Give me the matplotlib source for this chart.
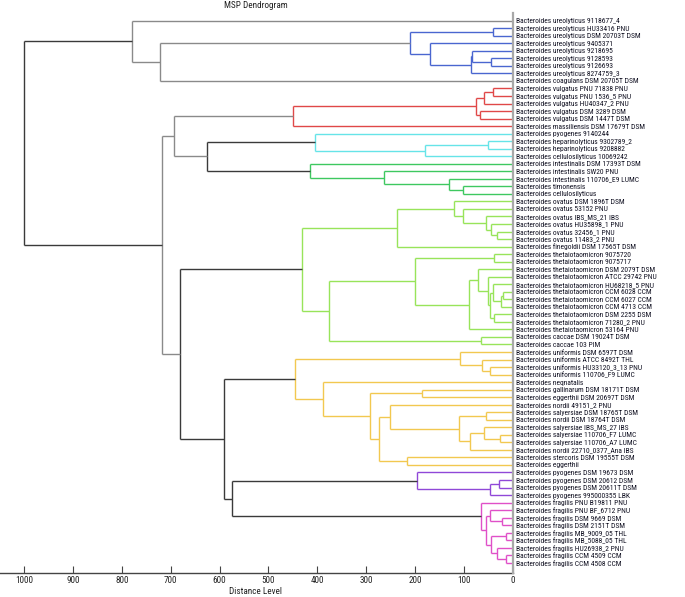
import matplotlib.pyplot as plt
from matplotlib import font_manager as fm

leaf_labels = [
    "Bacteroides ureolyticus 9118677_4",
    "Bacteroides ureolyticus HU33416 PNU",
    "Bacteroides ureolyticus DSM 20703T DSM",
    "Bacteroides ureolyticus 9405371",
    "Bacteroides ureolyticus 9218695",
    "Bacteroides ureolyticus 9128593",
    "Bacteroides ureolyticus 9126693",
    "Bacteroides ureolyticus 8274759_3",
    "Bacteroides coagulans DSM 20705T DSM",
    "Bacteroides vulgatus PNU 71838 PNU",
    "Bacteroides vulgatus PNU 1536_5 PNU",
    "Bacteroides vulgatus HU40347_2 PNU",
    "Bacteroides vulgatus DSM 3289 DSM",
    "Bacteroides vulgatus DSM 1447T DSM",
    "Bacteroides massiliensis DSM 17679T DSM",
    "Bacteroides pyogenes 9140244",
    "Bacteroides heparinolyticus 9302789_2",
    "Bacteroides heparinolyticus 9208882",
    "Bacteroides cellulosilyticus 10069242",
    "Bacteroides intestinalis DSM 17393T DSM",
    "Bacteroides intestinalis SW20 PNU",
    "Bacteroides intestinalis 110706_E9 LUMC",
    "Bacteroides timonensis",
    "Bacteroides cellulosilyticus",
    "Bacteroides ovatus DSM 1896T DSM",
    "Bacteroides ovatus 53152 PNU",
    "Bacteroides ovatus IBS_MS_21 IBS",
    "Bacteroides ovatus HU35898_1 PNU",
    "Bacteroides ovatus 32456_1 PNU",
    "Bacteroides ovatus 11483_2 PNU",
    "Bacteroides finegoldii DSM 17565T DSM",
    "Bacteroides thetaiotaomicron 9075720",
    "Bacteroides thetaiotaomicron 9075717",
    "Bacteroides thetaiotaomicron DSM 2079T DSM",
    "Bacteroides thetaiotaomicron ATCC 29742 PNU",
    "Bacteroides thetaiotaomicron HU68218_5 PNU",
    "Bacteroides thetaiotaomicron CCM 6028 CCM",
    "Bacteroides thetaiotaomicron CCM 6027 CCM",
    "Bacteroides thetaiotaomicron CCM 4713 CCM",
    "Bacteroides thetaiotaomicron DSM 2255 DSM",
    "Bacteroides thetaiotaomicron 71280_2 PNU",
    "Bacteroides thetaiotaomicron 53164 PNU",
    "Bacteroides caccae DSM 19024T DSM",
    "Bacteroides caccae 103 PIM",
    "Bacteroides uniformis DSM 6597T DSM",
    "Bacteroides uniformis ATCC 8492T THL",
    "Bacteroides uniformis HU33120_3_13 PNU",
    "Bacteroides uniformis 110706_F9 LUMC",
    "Bacteroides neqnatalis",
    "Bacteroides gallinarum DSM 18171T DSM",
    "Bacteroides eggerthii DSM 20697T DSM",
    "Bacteroides nordii 49151_2 PNU",
    "Bacteroides salyersiae DSM 18765T DSM",
    "Bacteroides nordii DSM 18764T DSM",
    "Bacteroides salyersiae IBS_MS_27 IBS",
    "Bacteroides salyersiae 110706_F7 LUMC",
    "Bacteroides salyersiae 110706_A7 LUMC",
    "Bacteroides nordii 22710_0377_Ana IBS",
    "Bacteroides stercoris DSM 19555T DSM",
    "Bacteroides eggerthii",
    "Bacteroides pyogenes DSM 19673 DSM",
    "Bacteroides pyogenes DSM 20612 DSM",
    "Bacteroides pyogenes DSM 20611T DSM",
    "Bacteroides pyogenes 995000355 LBK",
    "Bacteroides fragilis PNU B19811 PNU",
    "Bacteroides fragilis PNU BF_6712 PNU",
    "Bacteroides fragilis DSM 9669 DSM",
    "Bacteroides fragilis DSM 2151T DSM",
    "Bacteroides fragilis MB_9009_05 THL",
    "Bacteroides fragilis MB_5088_05 THL",
    "Bacteroides fragilis HU26938_2 PNU",
    "Bacteroides fragilis CCM 4509 CCM",
    "Bacteroides fragilis CCM 4508 CCM",
]

# merges, bottom-up: (node, left child, right child, distance level, colour group)
# ints are leaves (row in leaf_labels), strings are earlier nodes
links = [
    ("u1", 1, 2, 40, "blue"),
    ("u2", 5, 6, 45, "blue"),
    ("u3", 4, "u2", 83, "blue"),
    ("u4", "u3", 7, 86, "blue"),
    ("u5", 3, "u4", 170, "blue"),
    ("u6", "u1", "u5", 211, "blue"),
    ("t1", "u6", 8, 722, "grey"),
    ("t2", 0, "t1", 780, "grey"),
    ("r1", 9, 10, 40, "red"),
    ("r2", "r1", 11, 59, "red"),
    ("r3", 12, 13, 67, "red"),
    ("r4", "r2", "r3", 76, "red"),
    ("r5", "r4", 14, 449, "red"),
    ("c1", 16, 17, 52, "cyan"),
    ("c2", "c1", 18, 179, "cyan"),
    ("c3", 15, "c2", 404, "cyan"),
    ("g1", 22, 23, 102, "green"),
    ("g2", 21, "g1", 130, "green"),
    ("g3", 20, "g2", 264, "green"),
    ("g4", 19, "g3", 416, "green"),
    ("m1", "c3", "g4", 625, "dark"),
    ("m2", "r5", "m1", 693, "grey"),
    ("l1", 28, 29, 33, "lime"),
    ("l2", 27, "l1", 46, "lime"),
    ("l3", 26, "l2", 55, "lime"),
    ("l4", 25, "l3", 102, "lime"),
    ("l5", 24, "l4", 120, "lime"),
    ("l6", "l5", 30, 237, "lime"),
    ("l7", 31, 32, 39, "lime"),
    ("l8", 36, 37, 20, "lime"),
    ("l9", "l8", 38, 25, "lime"),
    ("l10", 35, "l9", 41, "lime"),
    ("l11", 39, 40, 38, "lime"),
    ("l12", "l10", "l11", 47, "lime"),
    ("l13", 34, "l12", 52, "lime"),
    ("l14", 33, "l13", 72, "lime"),
    ("l15", "l14", 41, 90, "lime"),
    ("l16", "l7", "l15", 201, "lime"),
    ("l17", 42, 43, 65, "lime"),
    ("l18", "l16", "l17", 377, "lime"),
    ("l19", "l6", "l18", 431, "lime"),
    ("y1", 46, 47, 48, "yellow"),
    ("y2", 45, "y1", 64, "yellow"),
    ("y3", 44, "y2", 108, "yellow"),
    ("y4", 49, 50, 187, "yellow"),
    ("y5", 52, 53, 55, "yellow"),
    ("y6", 55, 56, 26, "yellow"),
    ("y7", 54, "y6", 60, "yellow"),
    ("y8", "y7", 57, 87, "yellow"),
    ("y9", "y5", "y8", 111, "yellow"),
    ("y10", 51, "y9", 251, "yellow"),
    ("y11", 58, 59, 216, "yellow"),
    ("y12", "y10", "y11", 273, "yellow"),
    ("y13", "y4", "y12", 292, "yellow"),
    ("y14", 48, "y13", 389, "yellow"),
    ("y15", "y3", "y14", 446, "yellow"),
    ("p1", 61, 62, 28, "purple"),
    ("p2", "p1", 63, 47, "purple"),
    ("p3", 60, "p2", 197, "purple"),
    ("k1", 66, 67, 22, "pink"),
    ("k2", 65, "k1", 48, "pink"),
    ("k3", 68, 69, 14, "pink"),
    ("k4", 71, 72, 15, "pink"),
    ("k5", 70, "k4", 33, "pink"),
    ("k6", "k3", "k5", 44, "pink"),
    ("k7", "k2", "k6", 55, "pink"),
    ("k8", 64, "k7", 65, "pink"),
    ("m3", "p3", "k8", 574, "dark"),
    ("m4", "y15", "m3", 590, "dark"),
    ("m5", "l19", "m4", 680, "dark"),
    ("m6", "m2", "m5", 717, "grey"),
    ("root", "t2", "m6", 1000, "dark"),
]

colours = {
    "dark": "#3a3a3a", "grey": "#8a8a8a", "blue": "#4a66d0", "red": "#e04848",
    "cyan": "#66e4e8", "green": "#3ec860", "lime": "#98e45a", "yellow": "#f2c850",
    "purple": "#9048d8", "pink": "#e050c8",
}

# pick a narrow face if there is one, else plain Liberation Sans
fonts = {(f.name, f.stretch) for f in fm.fontManager.ttflist}
font = {"family": "Liberation Sans", "stretch": "normal"}
for fam, st in [("Liberation Sans Narrow", None), ("Roboto Condensed", None),
                ("Noto Sans", "condensed"), ("DejaVu Sans", "condensed")]:
    if any(n == fam and (st is None or s == st) for n, s in fonts):
        font = {"family": fam, "stretch": st or "normal"}
        break

fig = plt.figure(figsize=(6.85, 5.97), dpi=100)
renderer = fig.canvas.get_renderer()


def size_for(text, width_px):
    t = fig.text(0, 0, text, fontsize=10, **font)
    w = t.get_window_extent(renderer).width
    t.remove()
    return 10 * width_px / w


label_size = size_for(leaf_labels[0], 104)
small_size = size_for("Distance Level", 52)

ax = fig.add_axes([0.0, 0.0402, 0.7489, 0.9377])

pos = {i: (0.0, float(i)) for i in range(len(leaf_labels))}
for name, a, b, d, grp in links:
    c = colours[grp]
    xa, ya = pos[a]
    xb, yb = pos[b]
    ax.plot([xa, d], [ya, ya], color=c, lw=1.0, solid_capstyle="butt")
    ax.plot([xb, d], [yb, yb], color=c, lw=1.0, solid_capstyle="butt")
    ax.plot([d, d], [ya, yb], color=c, lw=1.0, solid_capstyle="butt")
    pos[name] = (d, (ya + yb) / 2)

ax.axvline(0, color="#a8a8a8", lw=1.6, clip_on=False, zorder=3)

ax.set_xlim(1049, 0)
ax.set_ylim(len(leaf_labels) + 0.35, -1)

ax.yaxis.tick_right()
ax.set_yticks(range(len(leaf_labels)))
ax.set_yticklabels(leaf_labels, fontsize=label_size, color="#111122", **font)
ax.tick_params(axis="y", length=0, pad=2.5)

ax.set_xticks(range(0, 1001, 100))
ax.set_xticklabels([str(v) for v in range(0, 1001, 100)], fontsize=small_size,
                   color="#222222", **font)
ax.tick_params(axis="x", direction="in", length=5, width=0.8, color="#444444", pad=2.5)

for s in ["top", "left", "right"]:
    ax.spines[s].set_visible(False)
ax.spines["bottom"].set_color("#444444")
ax.spines["bottom"].set_linewidth(1.0)

fig.text(256 / 685, 1 - 5 / 597, "MSP Dendrogram", fontsize=small_size,
         ha="center", va="center", color="#222222", **font)
fig.text(256 / 685, 1 - 592 / 597, "Distance Level", fontsize=small_size,
         ha="center", va="center", color="#222222", **font)

fig.savefig("out.png", dpi=100)
